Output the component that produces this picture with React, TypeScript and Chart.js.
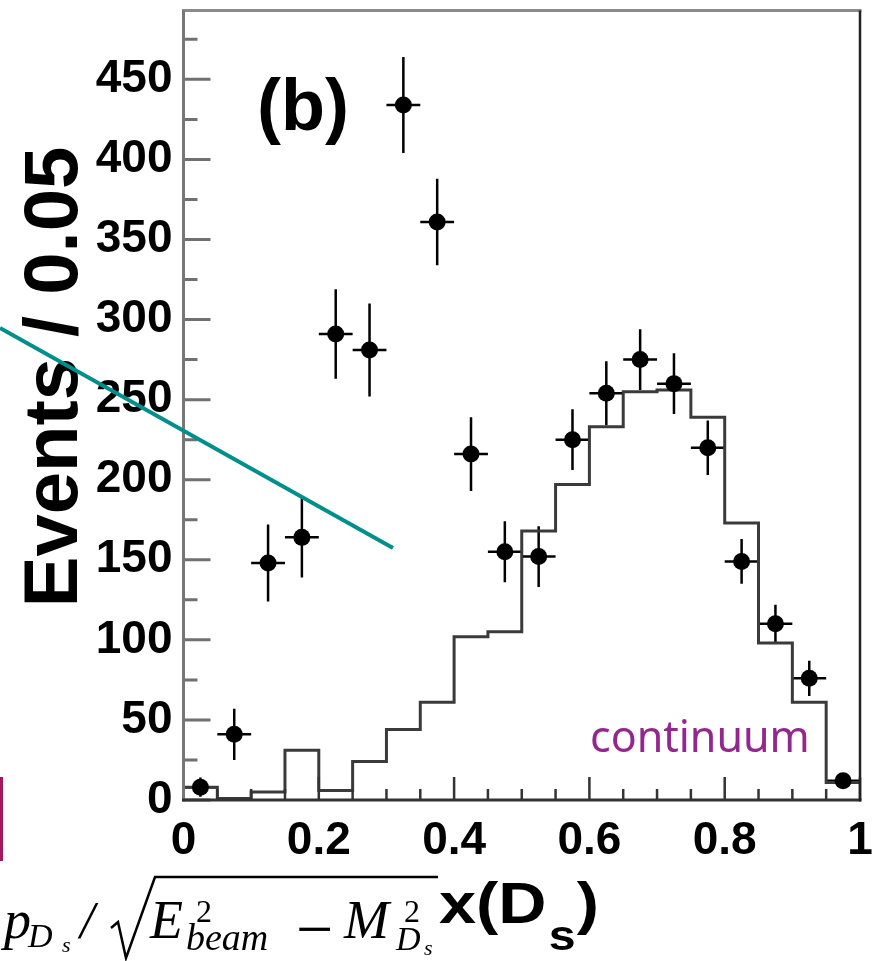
import React, { useEffect, useRef } from "react";
import { Chart, registerables } from "chart.js";

Chart.register(...registerables);

// ---- data ----
const binCenters = [0.025, 0.075, 0.125, 0.175, 0.225, 0.275, 0.325, 0.375, 0.425, 0.475, 0.525, 0.575, 0.625, 0.675, 0.725, 0.775, 0.825, 0.875, 0.925, 0.975];
const dataCounts = [8, 41, 148, 164, 291, 281, 434, 361, 216, 155, 152, 225, 254, 275, 260, 220, 149, 110, 76, 12];
const dataErrors = [6, 16, 24, 25, 28, 29, 30, 27, 23, 19, 19, 19, 20, 19, 19, 17, 14, 12, 11, 4];
const binHalfWidth = 0.025;
const binEdges = [0, 0.05, 0.1, 0.15, 0.2, 0.25, 0.3, 0.35, 0.4, 0.45, 0.5, 0.55, 0.6, 0.65, 0.7, 0.75, 0.8, 0.85, 0.9, 0.95, 1.0];
const continuumHist = [8, 1, 5, 31, 6, 24, 44, 61, 102, 105, 168, 197, 233, 255, 256, 239, 173, 98, 61, 11];

const xTickValues = [0, 0.2, 0.4, 0.6, 0.8, 1];
const xMinorTickValues = [0.05, 0.1, 0.15, 0.25, 0.3, 0.35, 0.45, 0.5, 0.55, 0.65, 0.7, 0.75, 0.85, 0.9, 0.95];
const yTickValues = [0, 50, 100, 150, 200, 250, 300, 350, 400, 450];
const yMinorTickValues = [25, 75, 125, 175, 225, 275, 325, 375, 425, 475];

const yTitle = "Events / 0.05";
const panelLabel = "(b)";
const legendText = "continuum";

const SANS = '"Liberation Sans", Arial, Helvetica, sans-serif';
const SERIF = '"Liberation Serif", "Times New Roman", serif';

const decorPlugin = {
  id: "decor",
  beforeDatasetsDraw(chart: any) {
    const ctx = chart.ctx;
    const xs = chart.scales.x;
    const ys = chart.scales.y;
    ctx.save();
    ctx.strokeStyle = "#000";
    ctx.lineWidth = 2.5;
    for (let i = 0; i < binCenters.length; i++) {
      const xc = xs.getPixelForValue(binCenters[i]);
      const yc = ys.getPixelForValue(dataCounts[i]);
      ctx.beginPath();
      ctx.moveTo(xc, ys.getPixelForValue(dataCounts[i] - dataErrors[i]));
      ctx.lineTo(xc, ys.getPixelForValue(dataCounts[i] + dataErrors[i]));
      ctx.moveTo(xs.getPixelForValue(binCenters[i] - binHalfWidth), yc);
      ctx.lineTo(xs.getPixelForValue(binCenters[i] + binHalfWidth), yc);
      ctx.stroke();
    }
    ctx.restore();
  },
  afterDatasetsDraw(chart: any) {
    const ctx = chart.ctx;
    const { left, right, top, bottom } = chart.chartArea;
    const xs = chart.scales.x;
    const ys = chart.scales.y;
    ctx.save();
    // ticks on y axis (inward)
    ctx.strokeStyle = "#707070";
    ctx.lineWidth = 3;
    ctx.beginPath();
    for (const v of yTickValues) {
      const y = ys.getPixelForValue(v);
      ctx.moveTo(left, y);
      ctx.lineTo(left + 27, y);
    }
    for (const v of yMinorTickValues) {
      const y = ys.getPixelForValue(v);
      ctx.moveTo(left, y);
      ctx.lineTo(left + 14, y);
    }
    ctx.stroke();
    // ticks on x axis (inward)
    ctx.strokeStyle = "#333";
    ctx.lineWidth = 2.5;
    ctx.beginPath();
    for (const v of xTickValues) {
      const x = xs.getPixelForValue(v);
      ctx.moveTo(x, bottom);
      ctx.lineTo(x, bottom - 23);
    }
    for (const v of xMinorTickValues) {
      const x = xs.getPixelForValue(v);
      ctx.moveTo(x, bottom);
      ctx.lineTo(x, bottom - 11);
    }
    ctx.stroke();
    // frame
    ctx.lineWidth = 3;
    ctx.strokeStyle = "#8a8a8a";
    ctx.beginPath();
    ctx.moveTo(left - 1.5, top);
    ctx.lineTo(right + 1.5, top);
    ctx.stroke();
    ctx.strokeStyle = "#777";
    ctx.beginPath();
    ctx.moveTo(left, top);
    ctx.lineTo(left, bottom + 1.5);
    ctx.stroke();
    ctx.strokeStyle = "#333";
    ctx.beginPath();
    ctx.moveTo(left - 1.5, bottom);
    ctx.lineTo(right + 1.5, bottom);
    ctx.stroke();
    ctx.strokeStyle = "#222";
    ctx.lineWidth = 2.5;
    ctx.beginPath();
    ctx.moveTo(right, top);
    ctx.lineTo(right, bottom + 1.5);
    ctx.stroke();
    ctx.restore();
  },
  afterDraw(chart: any) {
    const ctx = chart.ctx;
    ctx.save();
    ctx.fillStyle = "#000";
    ctx.textAlign = "left";
    ctx.textBaseline = "alphabetic";

    // y axis title
    ctx.save();
    ctx.translate(77, 377);
    ctx.rotate(-Math.PI / 2);
    ctx.font = `bold 76px ${SANS}`;
    ctx.textAlign = "center";
    ctx.fillText(yTitle, 0, 0);
    ctx.restore();

    // panel label
    ctx.font = `bold 72px ${SANS}`;
    ctx.fillText(panelLabel, 257, 130);

    // x axis title x(D_s)
    ctx.save();
    ctx.translate(439, 923);
    ctx.scale(1.15, 1);
    ctx.font = `bold 58px ${SANS}`;
    ctx.fillText("x(D", 0, 0);
    let w = ctx.measureText("x(D").width;
    ctx.font = `bold 42px ${SANS}`;
    ctx.fillText("s", w + 2, 27);
    w += ctx.measureText("s").width + 3;
    ctx.font = `bold 58px ${SANS}`;
    ctx.fillText(")", w, 0);
    ctx.restore();

    // formula p_{D_s} / sqrt(E^2_beam - M^2_{D_s})
    const it = (size: number) => `italic ${size}px ${SERIF}`;
    const up = (size: number) => `${size}px ${SERIF}`;
    ctx.font = it(54); ctx.fillText("p", 4, 938);
    ctx.font = it(34); ctx.fillText("D", 28, 947);
    ctx.font = it(22); ctx.fillText("s", 62, 952);
    ctx.font = it(52); ctx.fillText("/", 80, 938);
    ctx.strokeStyle = "#000";
    ctx.lineWidth = 2.5;
    ctx.beginPath();
    ctx.moveTo(111, 928);
    ctx.lineTo(118, 922);
    ctx.lineTo(126, 958);
    ctx.lineTo(155, 877);
    ctx.lineTo(438, 877);
    ctx.stroke();
    ctx.font = it(54); ctx.fillText("E", 150, 938);
    ctx.font = up(32); ctx.fillText("2", 196, 922);
    ctx.font = it(38); ctx.fillText("beam", 186, 950);
    ctx.font = up(66); ctx.fillText("\u2212", 296, 951);
    ctx.font = it(54); ctx.fillText("M", 344, 938);
    ctx.font = up(32); ctx.fillText("2", 404, 922);
    ctx.font = it(34); ctx.fillText("D", 396, 950);
    ctx.font = it(22); ctx.fillText("s", 424, 955);

    // continuum label
    ctx.fillStyle = "#93278f";
    ctx.font = `43px "Noto Sans", sans-serif`;
    ctx.fillText(legendText, 590, 752);

    // teal annotation line
    ctx.strokeStyle = "#008f8c";
    ctx.lineWidth = 4;
    ctx.beginPath();
    ctx.moveTo(0, 328);
    ctx.lineTo(393, 548);
    ctx.stroke();

    // magenta bar at left
    ctx.fillStyle = "#a3195b";
    ctx.fillRect(0, 777, 3, 84);
    ctx.restore();
  },
};

export default function App() {
  const canvasRef = useRef<HTMLCanvasElement | null>(null);

  useEffect(() => {
    if (!canvasRef.current) return;
    const histData = binEdges.map((e, i) => ({ x: e, y: continuumHist[Math.min(i, continuumHist.length - 1)] }));
    const pointData = binCenters.map((x, i) => ({ x, y: dataCounts[i] }));
    const tickFont = { family: SANS, size: 46, weight: "bold" as const };
    const chart = new Chart(canvasRef.current, {
      type: "scatter",
      data: {
        datasets: [
          {
            type: "line",
            label: "continuum",
            data: histData,
            stepped: "before",
            borderColor: "#3a3a3a",
            borderWidth: 3,
            pointRadius: 0,
            fill: false,
            order: 2,
          } as any,
          {
            type: "scatter",
            label: "data",
            data: pointData,
            pointRadius: 8.5,
            pointBackgroundColor: "#000",
            pointBorderColor: "#000",
            pointBorderWidth: 0,
            order: 1,
          },
        ],
      },
      options: {
        animation: false,
        responsive: false,
        devicePixelRatio: 1,
        layout: { padding: { top: 10.5, right: 14, left: 0, bottom: 0 } },
        plugins: { legend: { display: false }, tooltip: { enabled: false } },
        scales: {
          x: {
            type: "linear",
            min: 0,
            max: 1,
            grid: { display: false, drawTicks: false },
            border: { display: false },
            afterBuildTicks: (s: any) => {
              s.ticks = xTickValues.map((v) => ({ value: v }));
            },
            afterFit: (s: any) => {
              s.height = 161;
              s.paddingLeft = 0;
              s.paddingRight = 0;
            },
            ticks: {
              font: tickFont,
              color: "#000",
              padding: 14,
              maxRotation: 0,
              autoSkip: false,
              callback: (v: any) => String(Math.round(Number(v) * 10) / 10),
            },
          },
          y: {
            type: "linear",
            min: 0,
            max: 493,
            grid: { display: false, drawTicks: false },
            border: { display: false },
            afterBuildTicks: (s: any) => {
              s.ticks = yTickValues.map((v) => ({ value: v }));
            },
            afterFit: (s: any) => {
              s.width = 183.5;
              s.paddingTop = 0;
              s.paddingBottom = 0;
            },
            ticks: {
              font: tickFont,
              color: "#000",
              padding: 11,
              autoSkip: false,
              callback: (v: any) => String(v),
            },
          },
        },
      },
      plugins: [decorPlugin],
    });
    return () => chart.destroy();
  }, []);

  return (
    <div style={{ position: "fixed", left: 0, top: 0, width: 874, height: 961, background: "#fff" }}>
      <canvas ref={canvasRef} width={874} height={961} style={{ display: "block" }} />
    </div>
  );
}
